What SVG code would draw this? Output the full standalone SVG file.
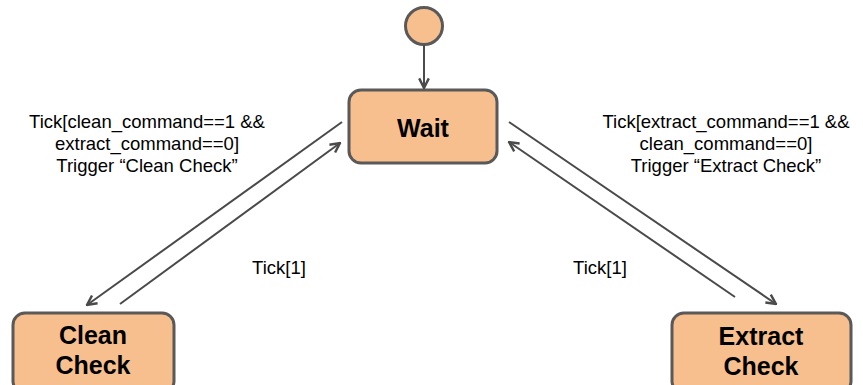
<svg xmlns="http://www.w3.org/2000/svg" width="863" height="385" viewBox="0 0 863 385">
<style>
.node{fill:#F8BF8E;stroke:#595959;stroke-width:3}
.title{font-family:"Liberation Sans",Arial,sans-serif;font-weight:bold;font-size:25px;fill:#000;text-anchor:middle}
.lbl{font-family:"Liberation Sans",Arial,sans-serif;font-size:18.5px;fill:#000;text-anchor:middle}
.edge{stroke:#4a4a4a;stroke-width:2;fill:none;marker-end:url(#ah)}
</style>
<defs>
<marker id="ah" viewBox="0 0 10 10" refX="9" refY="5" markerWidth="6" markerHeight="6" orient="auto" markerUnits="strokeWidth">
<path d="M1,1 L9,5 L1,9" fill="none" stroke="#4a4a4a" stroke-width="2"/>
</marker>
</defs>
<g id="init"><circle class="node" cx="424" cy="26" r="18.5" stroke-width="2"/></g>
<g id="wait"><rect class="node" x="349" y="90" width="148" height="73" rx="12"/><text class="title" x="423" y="137">Wait</text></g>
<g id="clean"><rect class="node" x="13" y="313" width="161" height="80" rx="12"/><text class="title" x="93" y="344">Clean</text><text class="title" x="93" y="374">Check</text></g>
<g id="extract"><rect class="node" x="672" y="313" width="179" height="80" rx="12"/><text class="title" x="761" y="345">Extract</text><text class="title" x="761" y="375">Check</text></g>
<g id="connectors">
<line class="edge" x1="424" y1="45" x2="424" y2="88"/>
<line class="edge" x1="342" y1="122" x2="87" y2="305"/>
<line class="edge" x1="120" y1="304" x2="340" y2="143"/>
<line class="edge" x1="509" y1="122" x2="776" y2="304"/>
<line class="edge" x1="735" y1="297" x2="509" y2="142"/>
</g>
<g id="labels">
<text class="lbl" x="147" y="128">Tick[clean_command==1 &amp;&amp;</text>
<text class="lbl" x="147" y="150">extract_command==0]</text>
<text class="lbl" x="147" y="172">Trigger “Clean Check”</text>
<text class="lbl" x="726" y="128">Tick[extract_command==1 &amp;&amp;</text>
<text class="lbl" x="726" y="150">clean_command==0]</text>
<text class="lbl" x="726" y="172">Trigger “Extract Check”</text>
<text class="lbl" x="279" y="274">Tick[1]</text>
<text class="lbl" x="600" y="274">Tick[1]</text>
</g>
</svg>
